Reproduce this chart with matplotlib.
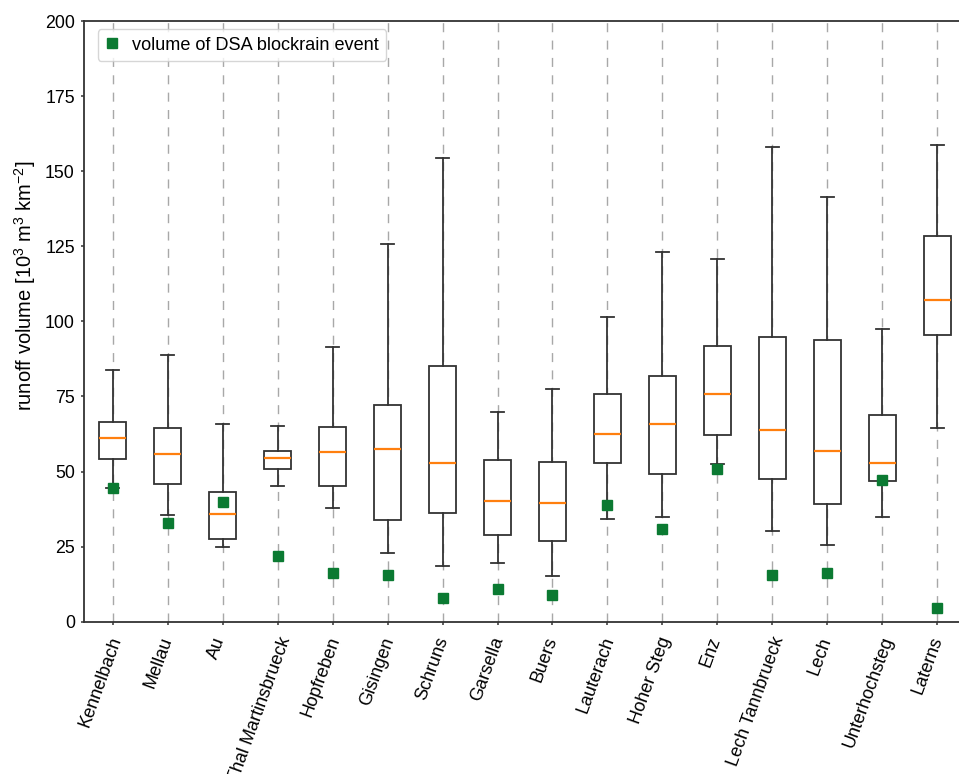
import matplotlib
matplotlib.use("Agg")
import matplotlib.pyplot as plt
from matplotlib.transforms import ScaledTranslation

plt.rcParams["font.family"] = ["Liberation Sans", "DejaVu Sans"]
plt.rcParams["mathtext.fontset"] = "custom"
plt.rcParams["mathtext.rm"] = "Liberation Sans"
plt.rcParams["mathtext.it"] = "Liberation Sans:italic"
plt.rcParams["mathtext.bf"] = "Liberation Sans:bold"

# Gauging stations
stations = ["Kennelbach", "Mellau", "Au", "Thal Martinsbrueck", "Hopfreben",
            "Gisingen", "Schruns", "Garsella", "Buers", "Lauterach",
            "Hoher Steg", "Enz", "Lech Tannbrueck", "Lech", "Unterhochsteg",
            "Laterns"]

# Runoff volume distribution per station [10^3 m^3 km^-2]
whisker_low = [44.6, 35.6, 24.9, 45.2, 38.0, 23.0, 18.4, 19.5, 15.2, 34.3,
               34.8, 52.5, 30.2, 25.5, 34.9, 64.4]
q1 = [54.3, 45.9, 27.6, 50.8, 45.3, 33.8, 36.3, 29.0, 27.0, 52.9,
      49.1, 62.1, 47.6, 39.1, 46.9, 95.4]
median = [61.1, 55.9, 36.0, 54.5, 56.5, 57.5, 52.8, 40.2, 39.4, 62.6,
          65.8, 75.8, 63.9, 56.9, 52.8, 107.1]
q3 = [66.6, 64.6, 43.1, 56.7, 64.7, 72.1, 85.2, 53.9, 53.1, 75.7,
      81.8, 91.8, 94.7, 93.8, 68.7, 128.5]
whisker_high = [83.7, 88.7, 65.7, 65.2, 91.6, 125.6, 154.4, 69.8, 77.6, 101.6,
                123.0, 120.7, 158.0, 141.4, 97.5, 158.7]

# Volume of the DSA blockrain event at each station
dsa_volume = [44.6, 32.8, 39.7, 21.9, 16.3, 15.5, 7.8, 10.9, 8.9, 39.0,
              30.8, 50.7, 15.7, 16.2, 47.3, 4.6]

y_ticks = [0, 25, 50, 75, 100, 125, 150, 175, 200]

fig = plt.figure(figsize=(9.59, 7.74), dpi=100)
ax = fig.add_axes([84 / 959, 152.3 / 774, 882 / 959, 600.7 / 774])

positions = list(range(1, len(stations) + 1))
stats = []
for name, lo, a, m, b, hi in zip(stations, whisker_low, q1, median, q3, whisker_high):
    stats.append({"label": name, "whislo": lo, "q1": a, "med": m,
                  "q3": b, "whishi": hi, "fliers": []})

edge = "#333333"
lw = 1.3
ax.bxp(stats, positions=positions, widths=0.5, patch_artist=True,
       showfliers=False,
       boxprops=dict(facecolor="white", edgecolor=edge, linewidth=lw),
       whiskerprops=dict(color=edge, linewidth=lw),
       capprops=dict(color=edge, linewidth=lw),
       medianprops=dict(color="#ff7f0e", linewidth=1.6),
       zorder=2)

ax.plot(positions, dsa_volume, linestyle="none", marker="s", markersize=7.2,
        color="#0b7a32", label="volume of DSA blockrain event", zorder=3)

ax.grid(axis="x", color="#a8a8a8", linestyle=(0, (6.5, 6)), linewidth=1.0, zorder=0)
ax.set_axisbelow(True)

ax.set_xlim(0.48, 16.52)
ax.set_ylim(0, 200)
ax.set_yticks(y_ticks)
ax.set_xticks(positions)
ax.set_xticklabels(stations, rotation=70, ha="right", fontsize=13)
ax.tick_params(axis="y", labelsize=12.8, length=2.3, width=1.1, pad=4.3, color=edge)
ax.tick_params(axis="x", length=2.3, width=1.1, pad=7, color=edge)

# Nudge the rotated station names to the right, a little more for long names
renderer = fig.canvas.get_renderer()
for lab in ax.get_xticklabels():
    probe = fig.text(0, 0, lab.get_text(), fontsize=13)
    text_len = probe.get_window_extent(renderer).width
    probe.remove()
    dx_px = 3.5 + 0.088 * text_len
    lab.set_transform(lab.get_transform() +
                      ScaledTranslation(dx_px / 100, 0, fig.dpi_scale_trans))

for side in ["left", "bottom", "top"]:
    ax.spines[side].set_color(edge)
    ax.spines[side].set_linewidth(1.3)
ax.spines["right"].set_visible(False)

ax.set_ylabel(r"runoff volume [10$^{3}$ m$^{3}$ km$^{-2}$]", fontsize=14.5)
ax.yaxis.set_label_coords(-0.052, 0.56)

ax.legend(loc="upper left", bbox_to_anchor=(0.0155, 0.986), borderaxespad=0,
          fontsize=13.1, handlelength=0.8, handletextpad=0.7)

fig.savefig("out.png", dpi=100)
